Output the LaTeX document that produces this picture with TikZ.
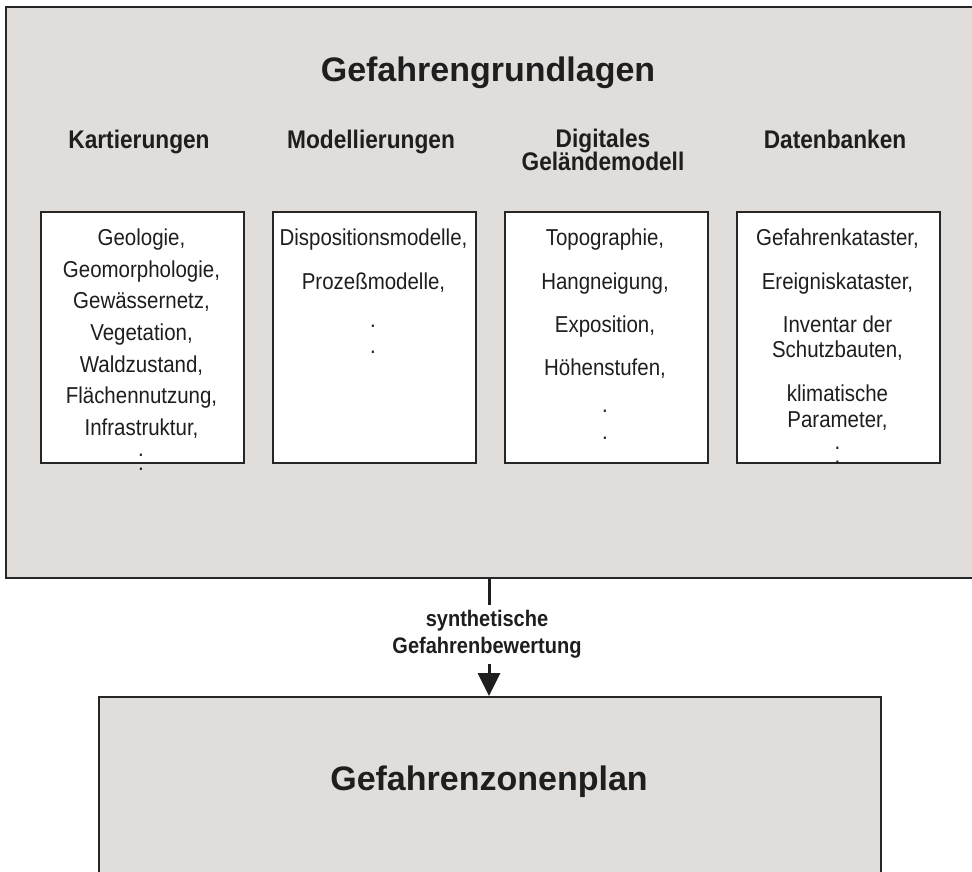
\documentclass[tikz,border=0pt]{standalone}
\usepackage{fontspec}
\setmainfont{Liberation Sans}
\newfontfamily\narrowfont{Liberation Sans}[FakeStretch=0.89]
\usetikzlibrary{arrows.meta}
\definecolor{panel}{RGB}{225,221,219}
\definecolor{edge}{RGB}{38,38,38}
\definecolor{ink}{RGB}{30,30,30}
\begin{document}
\begin{tikzpicture}[x=1pt,y=-1pt,
  panelbox/.style={draw=edge, line width=2pt, fill=panel, inner sep=0pt, anchor=north west},
  listbox/.style={draw=edge, line width=1.6pt, fill=white, inner sep=0pt, anchor=north west,
                  minimum width=203pt, minimum height=251pt},
  bigtitle/.style={font=\fontsize{34}{40}\selectfont\bfseries, text=ink, anchor=base},
  heading/.style={font=\narrowfont\fontsize{25.5}{28}\selectfont\bfseries, text=ink, anchor=base, inner sep=1pt},
  item/.style={font=\narrowfont\fontsize{23}{27}\selectfont, text=ink, anchor=base, inner sep=1pt},
  dotpair/.style={font=\narrowfont\fontsize{23}{#1}\selectfont, text=ink, align=center, inner sep=0pt},
  connector/.style={draw=ink, line width=3pt},
  flowlabel/.style={font=\narrowfont\fontsize{22.5}{27}\selectfont\bfseries, text=ink, align=center,
                    inner sep=0pt, minimum height=59pt}
]
\path[use as bounding box, clip] (0,0) rectangle (972,871);

% main panels
\node[panelbox, minimum width=975pt, minimum height=571pt] (grund) at (5,6) {};
\node[panelbox, minimum width=782pt, minimum height=200pt] (zonen) at (98,696) {};

\node[bigtitle] (grundtitle) at (488,81) {Gefahrengrundlagen};
\node[bigtitle] (zonentitle) at (489,790) {Gefahrenzonenplan};

% column headings
\node[heading] (h1) at (139,148) {Kartierungen};
\node[heading] (h2) at (371,148) {Modellierungen};
\node[heading] (h3a) at (603,147) {Digitales};
\node[heading] (h3b) at (603,170) {Geländemodell};
\node[heading] (h4) at (835,148) {Datenbanken};

% list boxes
\node[listbox] (b1) at (40,211) {};
\node[listbox] (b2) at (272,211) {};
\node[listbox] (b3) at (504,211) {};
\node[listbox] (b4) at (736,211) {};

% box 1
\node[item] (b1l1) at (141.5,245) {Geologie,};
\node[item] (b1l2) at (141.5,277) {Geomorphologie,};
\node[item] (b1l3) at (141.5,308) {Gewässernetz,};
\node[item] (b1l4) at (141.5,340) {Vegetation,};
\node[item] (b1l5) at (141.5,372) {Waldzustand,};
\node[item] (b1l6) at (141.5,403) {Flächennutzung,};
\node[item] (b1l7) at (141.5,435) {Infrastruktur,};
\node[dotpair=14pt] (b1d) at (141,462.3) {.\\.};

% box 2
\node[item] (b2l1) at (373.5,245) {Dispositionsmodelle,};
\node[item] (b2l2) at (373.5,289) {Prozeßmodelle,};
\node[dotpair=26pt] (b2d) at (373,338.8) {.\\.};

% box 3
\node[item] (b3l1) at (605,245) {Topographie,};
\node[item] (b3l2) at (605,289) {Hangneigung,};
\node[item] (b3l3) at (605,332) {Exposition,};
\node[item] (b3l4) at (605,375) {Höhenstufen,};
\node[dotpair=27pt] (b3d) at (605,424.3) {.\\.};

% box 4
\node[item] (b4l1) at (837.5,245) {Gefahrenkataster,};
\node[item] (b4l2) at (837.5,289) {Ereigniskataster,};
\node[item] (b4l3) at (837.5,332) {Inventar der};
\node[item] (b4l4) at (837.5,357) {Schutzbauten,};
\node[item] (b4l5) at (837.5,401) {klimatische};
\node[item] (b4l6) at (837.5,427) {Parameter,};
\node[dotpair=14pt] (b4d) at (837.5,454.8) {.\\.};

% connector with label
\node[flowlabel] (bew) at (487,634.5) {synthetische\\Gefahrenbewertung};
\coordinate (cx) at (489,0);
\draw[connector] (grund.south -| cx) -- (bew.north -| cx);
\draw[connector, -{Triangle[width=22pt,length=23pt]}] (bew.south -| cx) -- (zonen.north -| cx);
\end{tikzpicture}
\end{document}
